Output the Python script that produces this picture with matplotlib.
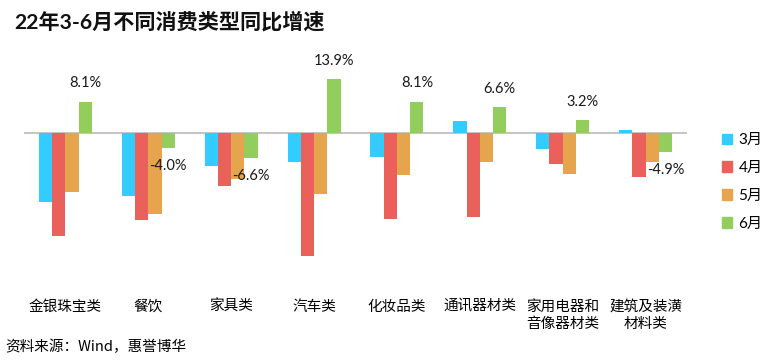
import numpy as np
import matplotlib
matplotlib.use("Agg")
import matplotlib.pyplot as plt
import matplotlib.patches as mpatches

plt.rcParams['font.family'] = ['Lato', 'Noto Sans CJK SC', 'DejaVu Sans']

# ── Data ─────────────────────────────────────────────────────────────────────
categories = ['金银珠宝类', '餐饮', '家具类', '汽车类', '化妆品类',
              '通讯器材类', '家用电器和\n音像器材类', '建筑及装潢\n材料类']
months = ['3月', '4月', '5月', '6月']
mar = [-18.1, -16.5, -8.7, -7.5, -6.2, 3.1, -4.3, 0.6]
apr = [-26.9, -22.8, -13.9, -31.9, -22.5, -22.0, -8.0, -11.6]
may = [-15.5, -21.2, -12.0, -16.0, -11.1, -7.7, -10.6, -7.7]
jun = [8.1, -4.0, -6.6, 13.9, 8.1, 6.6, 3.2, -4.9]

colors = ['#33CCFF', '#EA615B', '#E6A44D', '#93CD5C']

W, H = 769, 364
fig = plt.figure(figsize=(W / 100, H / 100), dpi=100)

# axes: zero line at y=133px, ~3.85 px per %
top_px, bot_px = 48, 279
ax = fig.add_axes([24 / W, 1 - bot_px / H, (687 - 24) / W, (bot_px - top_px) / H])
ax.set_ylim(-38, 22)
ax.set_xlim(-0.5, len(categories) - 0.5)

x = np.arange(len(categories))
bw = 0.16
for i, (vals, c, lab) in enumerate(zip([mar, apr, may, jun], colors, months)):
    ax.bar(x + (i - 1.5) * bw, vals, width=bw, color=c, label=lab, zorder=2)

ax.axhline(0, color='#BFBFBF', lw=1.3, zorder=1)

# value labels on June bars
for xi, v in zip(x, jun):
    off = 13 if v >= 0 else -13
    ax.annotate(f'{v:.1f}%', xy=(xi + 1.5 * bw, v), xytext=(0, off),
                textcoords='offset points', ha='center', va='center',
                fontsize=10.5, color='#1a1a1a', zorder=3)

for s in ax.spines.values():
    s.set_visible(False)
ax.set_yticks([])
ax.set_xticks(x)
ax.set_xticklabels(categories, fontsize=10.5, family=['Noto Sans CJK SC'],
                   va='top', linespacing=1.3)
ax.tick_params(axis='x', length=0, pad=15)

handles = [mpatches.Patch(color=c, label=m) for c, m in zip(colors, months)]
fig.legend(handles=handles, loc='center left', bbox_to_anchor=(708 / W, 1 - 182 / H),
           frameon=False, fontsize=11, handlelength=0.7, handleheight=0.7,
           handletextpad=0.4, labelspacing=0.9)

fig.text(14 / W, 1 - 22 / H, '22年3-6月不同消费类型同比增速', fontsize=15.2,
         fontweight='bold', va='center', ha='left', color='#111111')
fig.text(5 / W, 1 - 347 / H, '资料来源：Wind，惠誉博华', fontsize=10.5,
         va='center', ha='left', family=['Noto Sans CJK SC'])

fig.savefig('out.png', dpi=100)
